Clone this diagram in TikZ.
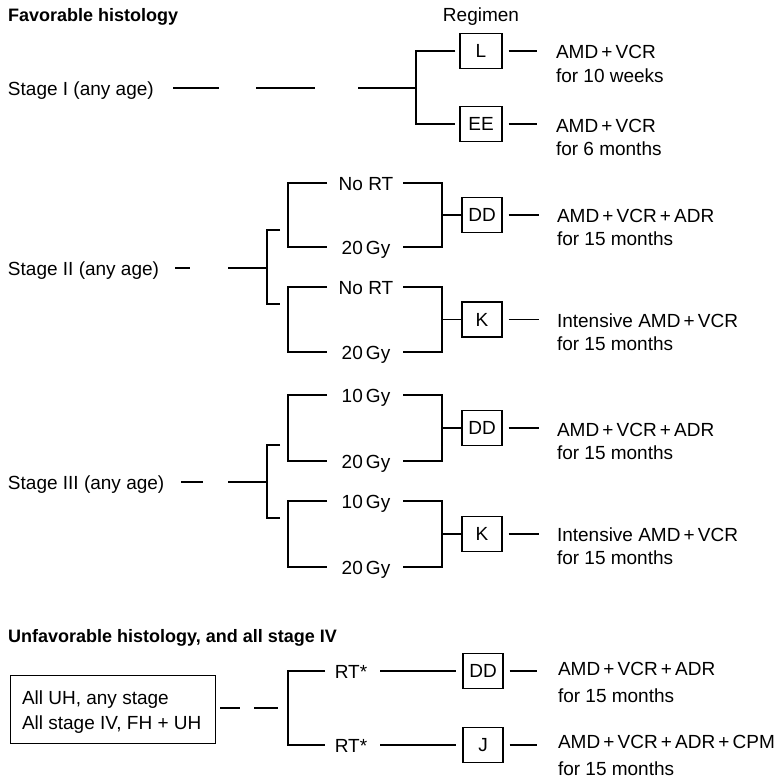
\documentclass[tikz,border=0pt]{standalone}
\usepackage{fontspec}
\setmainfont{Liberation Sans}
\newcommand{\rtbracket}[6]{%
  \coordinate (#1tl) at (288,#2);
  \coordinate (#1bl) at (288,#3);
  \coordinate (#1tr) at (442,#2);
  \coordinate (#1br) at (442,#3);
  \coordinate (#1ta) at (327,#2);
  \coordinate (#1ba) at (327,#3);
  \coordinate (#1tb) at (403,#2);
  \coordinate (#1bb) at (403,#3);
  \coordinate (#1m) at (442,{(#2+#3)/2});
  \node[clbl] (#1t) at (366,#2+7) {#4};
  \node[clbl] (#1b) at (366,#3+7) {#5};
  \draw[wire] (#1ta) -- (#1tl) -- (#1bl) -- (#1ba);
  \draw[wire] (#1tb) -- (#1tr) -- (#1br) -- (#1bb);
  \node[reg] (#1box) at (482,{(#2+#3)/2}) {#6};
  \draw[wire] (#1m) -- (#1box.west);
  \coordinate (#1out) at (539,{(#2+#3)/2});
  \draw[wire] ([xshift=6pt]#1box.east) -- (#1out);
}
\begin{document}
\begin{tikzpicture}[x=1pt,y=-1pt,
  txt/.style={font=\fontsize{19}{23}\selectfont, inner sep=0pt, outer sep=0pt},
  lbl/.style={txt, anchor=base west},
  clbl/.style={txt, anchor=base},
  hd/.style={font=\fontsize{18}{22}\selectfont\bfseries, inner sep=0pt, anchor=base west},
  reg/.style={draw, line width=1.1pt, minimum width=40pt, minimum height=35pt, inner sep=0pt, font=\fontsize{19}{23}\selectfont},
  wire/.style={line width=1.1pt}]
\fill[white] (0,0) rectangle (782,779);
\useasboundingbox (0,0) rectangle (782,779);

% ---------- headings
\node[hd] (fav) at (8,21) {Favorable histology};
\node[clbl] (regimen) at (481,21) {Regimen};

% ---------- Stage I
\node[lbl] (s1) at (8,95) {Stage I (any age)};
\coordinate (s1a) at (173,88); \coordinate (s1b) at (219,88);
\coordinate (s1c) at (256,88); \coordinate (s1d) at (315,88);
\coordinate (s1e) at (358,88); \coordinate (s1f) at (416,88);
\draw[wire] (s1a) -- (s1b);
\draw[wire] (s1c) -- (s1d);
\draw[wire] (s1e) -- (s1f);
\node[reg, minimum width=42pt] (L) at (481,51) {L};
\node[reg, minimum width=42pt] (EE) at (481,124) {EE};
\draw[wire] ([xshift=-4pt]L.west) -| (s1f) |- ([xshift=-4pt]EE.west);
\coordinate (Lout) at (537,51);
\coordinate (EEout) at (537,124);
\draw[wire] ([xshift=6pt]L.east) -- (Lout);
\draw[wire] ([xshift=6pt]EE.east) -- (EEout);
\node[lbl] (Lt1) at (556,58) {AMD\,+\,VCR};
\node[lbl] (Lt2) at (556,82) {for 10 weeks};
\node[lbl] (EEt1) at (556,132) {AMD\,+\,VCR};
\node[lbl] (EEt2) at (556,155) {for 6 months};

% ---------- Stage II
\node[lbl] (s2) at (8,275) {Stage II (any age)};
\coordinate (s2a) at (175,268); \coordinate (s2b) at (190,268);
\coordinate (s2c) at (228,268); \coordinate (s2j) at (267,268);
\coordinate (s2u) at (280,230); \coordinate (s2l) at (280,304);
\draw[wire] (s2a) -- (s2b);
\draw[wire] (s2c) -- (s2j);
\draw[wire] (s2u) -| (s2j) |- (s2l);
\rtbracket{a}{183}{247}{No RT}{20\,Gy}{DD}
\rtbracket{b}{287}{352}{No RT}{20\,Gy}{K}
\node[lbl] (at1) at (557,222) {AMD\,+\,VCR\,+\,ADR};
\node[lbl] (at2) at (557,245) {for 15 months};
\node[lbl] (bt1) at (557,327) {Intensive AMD\,+\,VCR};
\node[lbl] (bt2) at (557,350) {for 15 months};

% ---------- Stage III
\node[lbl] (s3) at (8,489) {Stage III (any age)};
\coordinate (s3a) at (181,482); \coordinate (s3b) at (203,482);
\coordinate (s3c) at (228,482); \coordinate (s3j) at (267,482);
\coordinate (s3u) at (280,445); \coordinate (s3l) at (280,518);
\draw[wire] (s3a) -- (s3b);
\draw[wire] (s3c) -- (s3j);
\draw[wire] (s3u) -| (s3j) |- (s3l);
\rtbracket{c}{395}{461}{10\,Gy}{20\,Gy}{DD}
\rtbracket{d}{501}{567}{10\,Gy}{20\,Gy}{K}
\node[lbl] (ct1) at (557,436) {AMD\,+\,VCR\,+\,ADR};
\node[lbl] (ct2) at (557,459) {for 15 months};
\node[lbl] (dt1) at (557,541) {Intensive AMD\,+\,VCR};
\node[lbl] (dt2) at (557,564) {for 15 months};

% ---------- Unfavorable
\node[hd] (unf) at (8,642) {Unfavorable histology, and all stage IV};
\node[draw, wire, minimum width=205pt, minimum height=68pt, inner sep=0pt, anchor=north west] (uh) at (10,675) {};
\node[lbl] (uh1) at (22,704) {All UH, any stage};
\node[lbl] (uh2) at (22,729) {All stage IV, FH + UH};
\coordinate (ua) at (220,708); \coordinate (ub) at (240,708);
\coordinate (uc) at (254,708); \coordinate (ud) at (278,708);
\draw[wire] (ua) -- (ub);
\draw[wire] (uc) -- (ud);
\coordinate (utl) at (288,671); \coordinate (ubl) at (288,745);
\coordinate (uta) at (325,671); \coordinate (uba) at (325,745);
\draw[wire] (uta) -- (utl) -- (ubl) -- (uba);
\node[clbl] (rt1) at (351,678) {RT*};
\node[clbl] (rt2) at (351,752) {RT*};
\node[reg] (DDu) at (483,671) {DD};
\node[reg] (J) at (483,745) {J};
\coordinate (utb) at (380,671); \coordinate (ubb) at (380,745);
\draw[wire] (utb) -- ([xshift=-6pt]DDu.west);
\draw[wire] (ubb) -- ([xshift=-6pt]J.west);
\coordinate (DDuout) at (537,671); \coordinate (Jout) at (537,745);
\draw[wire] ([xshift=6pt]DDu.east) -- (DDuout);
\draw[wire] ([xshift=6pt]J.east) -- (Jout);
\node[lbl] (ut1) at (558,675) {AMD\,+\,VCR\,+\,ADR};
\node[lbl] (ut2) at (558,702) {for 15 months};
\node[lbl] (jt1) at (558,748) {AMD\,+\,VCR\,+\,ADR\,+\,CPM};
\node[lbl] (jt2) at (558,775) {for 15 months};
\end{tikzpicture}
\end{document}
